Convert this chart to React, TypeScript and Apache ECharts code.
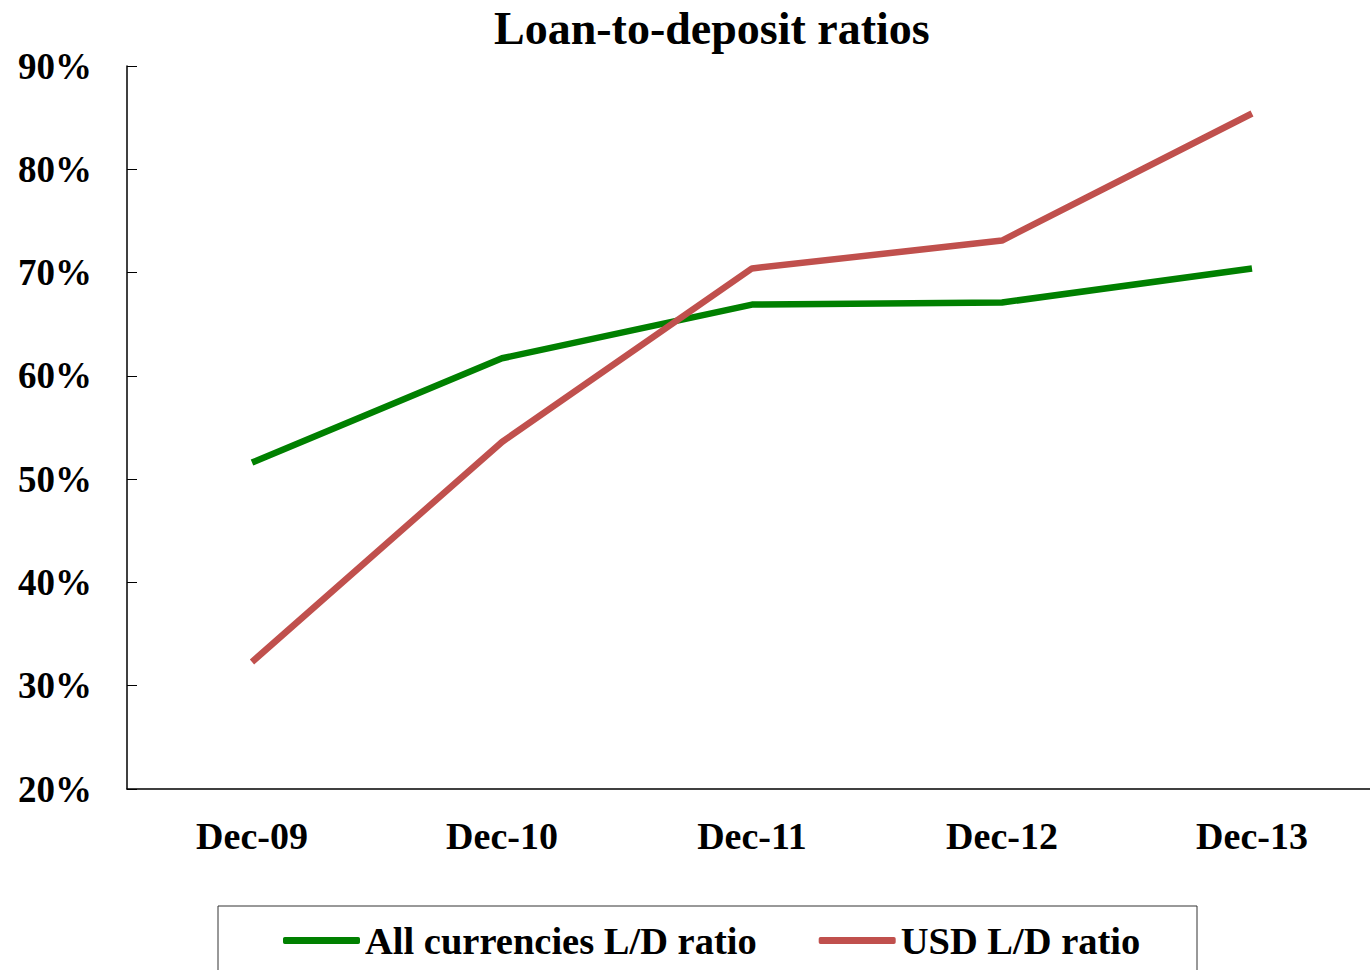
import React, { useEffect, useRef } from "react";
import * as echarts from "echarts";

const categories = ["Dec-09", "Dec-10", "Dec-11", "Dec-12", "Dec-13"];
const allCurrencies = [51.6, 61.7, 66.9, 67.1, 70.4];
const usdRatio = [32.3, 53.6, 70.4, 73.1, 85.4];
const seriesNames = ["All currencies L/D ratio", "USD L/D ratio"];
const yTicks = { min: 20, max: 90, interval: 10 };

const FONT = '"Liberation Serif", "Times New Roman", serif';

export default function App() {
  const ref = useRef<HTMLDivElement>(null);
  useEffect(() => {
    document.body.style.margin = "0";
    const chart = echarts.init(ref.current!, null, { renderer: "svg" });
    chart.setOption({
      animation: false,
      backgroundColor: "#ffffff",
      title: {
        text: "Loan-to-deposit ratios",
        left: 489,
        top: 0,
        textStyle: { fontFamily: FONT, fontWeight: "bold", fontSize: 46, color: "#000" },
      },
      grid: { left: 127, top: 66, width: 1250, height: 723 },
      legend: {
        left: 283,
        top: 921,
        padding: 0,
        itemWidth: 77,
        itemHeight: 7,
        itemGap: 62,
        icon: "roundRect",
        textStyle: { fontFamily: FONT, fontWeight: "bold", fontSize: 38.5, color: "#000" },
        data: seriesNames,
      },
      graphic: [
        {
          type: "rect",
          shape: { x: 218, y: 906, width: 979, height: 100 },
          style: { fill: "none", stroke: "#333", lineWidth: 1 },
          silent: true,
        },
      ],
      xAxis: {
        type: "category",
        data: categories,
        boundaryGap: true,
        axisLine: { lineStyle: { color: "#000", width: 1.5 } },
        axisTick: { inside: true, length: 10, interval: 0, lineStyle: { color: "#000" } },
        axisLabel: {
          margin: 28,
          fontFamily: FONT,
          fontWeight: "bold",
          fontSize: 38,
          color: "#000",
        },
      },
      yAxis: {
        type: "value",
        min: yTicks.min,
        max: yTicks.max,
        interval: yTicks.interval,
        splitLine: { show: false },
        axisLine: { show: true, lineStyle: { color: "#000", width: 1.5 } },
        axisTick: { show: true, inside: true, length: 10, lineStyle: { color: "#000" } },
        axisLabel: {
          margin: 35,
          formatter: "{value}%",
          fontFamily: FONT,
          fontWeight: "bold",
          fontSize: 37,
          color: "#000",
        },
      },
      series: [
        {
          name: seriesNames[0],
          type: "line",
          data: allCurrencies,
          symbol: "none",
          lineStyle: { color: "#008000", width: 6.5 },
          itemStyle: { color: "#008000" },
        },
        {
          name: seriesNames[1],
          type: "line",
          data: usdRatio,
          symbol: "none",
          lineStyle: { color: "#C0504D", width: 6.5 },
          itemStyle: { color: "#C0504D" },
        },
      ],
    });
    return () => chart.dispose();
  }, []);
  return (
    <div style={{ position: "absolute", left: 0, top: 0, width: 1370, height: 970, overflow: "hidden" }}>
      <div ref={ref} style={{ width: 1390, height: 970 }} />
    </div>
  );
}
